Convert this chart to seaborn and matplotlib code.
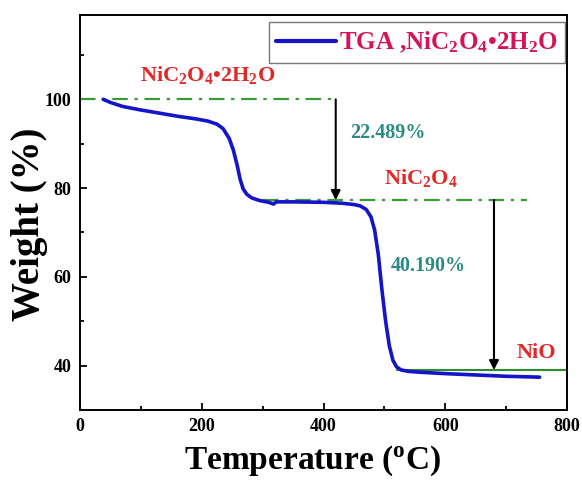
import numpy as np
import pandas as pd
import matplotlib
matplotlib.use("Agg")
import matplotlib.pyplot as plt
from matplotlib.ticker import MultipleLocator
import seaborn as sns

# TGA curve of nickel oxalate dihydrate
temperature = [38, 50, 70, 100, 130, 160, 190, 210, 225, 235, 245, 252, 258, 263,
               268, 274, 282, 295, 310, 318, 322, 350, 400, 430, 450, 460, 470,
               478, 484, 490, 496, 502, 508, 514, 520, 528, 540, 560, 600, 650,
               700, 730, 755]
weight = [100.0, 99.3, 98.4, 97.6, 96.9, 96.2, 95.6, 95.1, 94.4, 93.4, 91.2, 88.5,
          85.2, 82.0, 79.8, 78.6, 77.8, 77.2, 76.8, 76.4, 76.9, 76.9, 76.8, 76.6,
          76.3, 76.0, 75.2, 73.5, 70.5, 65.0, 57.0, 50.0, 44.5, 41.2, 39.7, 39.0,
          38.7, 38.5, 38.2, 37.9, 37.6, 37.5, 37.4]

# Plateau levels and mass-loss steps
level_hydrate = 100.0
level_oxalate = 77.3
level_oxide = 39.0
loss_labels = ["22.489%", "40.190%"]
phase_labels = [r"NiC$_2$O$_4$•2H$_2$O", r"NiC$_2$O$_4$", "NiO"]
legend_label = r"TGA ,NiC$_2$O$_4$•2H$_2$O"

x_ticks = [0, 200, 400, 600, 800]
y_ticks = [40, 60, 80, 100]

sns.set_theme(style="ticks")
plt.rcParams["font.family"] = ["Liberation Serif", "DejaVu Serif"]
plt.rcParams["font.weight"] = "bold"
plt.rcParams["text.color"] = "black"
plt.rcParams["axes.labelcolor"] = "black"
plt.rcParams["xtick.color"] = "black"
plt.rcParams["ytick.color"] = "black"
plt.rcParams["mathtext.fontset"] = "custom"
plt.rcParams["mathtext.rm"] = "Liberation Serif:bold"
plt.rcParams["mathtext.bf"] = "Liberation Serif:bold"
plt.rcParams["mathtext.it"] = "Liberation Serif:bold"
plt.rcParams["mathtext.default"] = "rm"

fig = plt.figure(figsize=(5.82, 4.80), dpi=100)
ax = fig.add_axes([0.1375, 0.1458, 0.8368, 0.8229])

df = pd.DataFrame({"Temperature": temperature, "Weight": weight})
sns.lineplot(data=df, x="Temperature", y="Weight", ax=ax, color="#1414c8",
             linewidth=2.6, label=legend_label, sort=False)

green_dd = "#3a9a3a"
ax.plot([0, 412], [level_hydrate, level_hydrate], color=green_dd, lw=1.6,
        ls=(0, (7, 3, 1.5, 3)), zorder=1)
ax.plot([300, 735], [level_oxalate, level_oxalate], color=green_dd, lw=1.6,
        ls=(0, (7, 3, 1.5, 3)), zorder=1)
ax.plot([520, 800], [level_oxide, level_oxide], color="#2e8b2e", lw=1.5, zorder=1)

arrow = dict(arrowstyle="-|>", color="black", lw=1.5, mutation_scale=14,
             shrinkA=0, shrinkB=0)
ax.annotate("", xy=(420, level_oxalate), xytext=(420, level_hydrate),
            arrowprops=arrow)
ax.annotate("", xy=(680, level_oxide), xytext=(680, level_oxalate),
            arrowprops=arrow)

red = "#e02a2a"
teal = "#2a8a84"
ax.text(209, 105.5, phase_labels[0], color=red, fontsize=16, ha="center", va="center")
ax.text(560, 82.3, phase_labels[1], color=red, fontsize=16, ha="center", va="center")
ax.text(749, 42.9, phase_labels[2], color=red, fontsize=16, ha="center", va="center")
ax.text(505, 92.5, loss_labels[0], color=teal, fontsize=14.5, ha="center", va="center")
ax.text(572, 62.5, loss_labels[1], color=teal, fontsize=14.5, ha="center", va="center")

ax.set_xlim(0, 800)
ax.set_ylim(30, 119)
ax.set_xticks(x_ticks)
ax.set_yticks(y_ticks)
ax.xaxis.set_minor_locator(MultipleLocator(100))
ax.yaxis.set_minor_locator(MultipleLocator(10))
ax.tick_params(which="both", direction="in", top=False, right=False, width=1.3,
               colors="black")
ax.tick_params(which="major", length=5, labelsize=13, pad=6)
ax.tick_params(which="minor", length=3)
for lab in ax.get_xticklabels() + ax.get_yticklabels():
    lab.set_fontweight("bold")
for sp in ax.spines.values():
    sp.set_linewidth(1.4)
    sp.set_color("black")

ax.set_xlabel(r"Temperature ($^{o}$C)", fontsize=24, fontweight="bold", color="black")
ax.set_ylabel("Weight (%)", fontsize=28, fontweight="bold", color="black")
ax.xaxis.set_label_coords(0.478, -0.085)
ax.yaxis.set_label_coords(-0.066, 0.47)

leg = ax.legend(loc="upper right", bbox_to_anchor=(0.996, 0.982), borderaxespad=0,
                fontsize=18, frameon=True, fancybox=False, handlelength=2.4,
                handletextpad=0.1, borderpad=0.3)
leg.get_frame().set_edgecolor("#555555")
leg.get_frame().set_linewidth(1.0)
leg.get_texts()[0].set_color("#d4145a")
leg.get_lines()[0].set_linewidth(3)

fig.savefig("out.png", dpi=100)
